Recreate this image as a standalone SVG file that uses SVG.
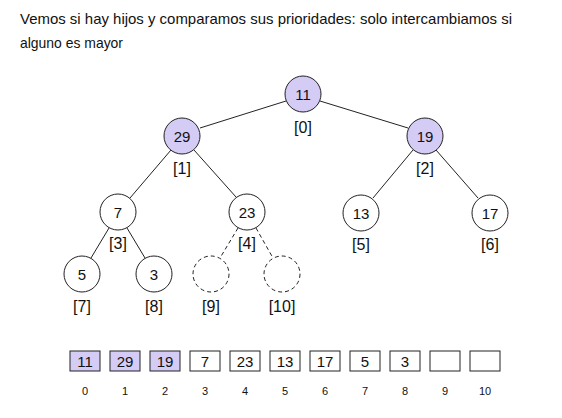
<svg xmlns="http://www.w3.org/2000/svg" width="562" height="418" viewBox="0 0 562 418">
<style>
text{font-family:"Liberation Sans","DejaVu Sans",sans-serif;fill:#111}
.n circle{fill:#fff;stroke:#222;stroke-width:1}
.n.hl circle{fill:#d5ccf6}
.n.d circle{stroke-dasharray:4,3}
.v{font-size:15px;text-anchor:middle;dominant-baseline:central}
.l{font-size:16px;text-anchor:middle;dominant-baseline:central}
.e line{stroke:#222;stroke-width:1}
.e line.d{stroke-dasharray:4,3}
.a rect{fill:#fff;stroke:#222;stroke-width:1}
.a rect.hl{fill:#d5ccf6}
.i{font-size:11px;text-anchor:middle;dominant-baseline:central}
.t{font-size:15px}
</style>
<rect width="562" height="418" fill="#fff"/>
<text class="t" x="20" y="24" textLength="492" lengthAdjust="spacingAndGlyphs">Vemos si hay hijos y comparamos sus prioridades: solo intercambiamos si</text>
<text class="t" x="20" y="48" textLength="103" lengthAdjust="spacingAndGlyphs">alguno es mayor</text>
<g class="e" id="connectors">
<line x1="286" y1="101" x2="200" y2="128"/>
<line x1="320" y1="101" x2="408" y2="128"/>
<line x1="171" y1="150" x2="130" y2="198"/>
<line x1="194" y1="150" x2="236" y2="197"/>
<line x1="413" y1="150" x2="373" y2="198"/>
<line x1="436" y1="150" x2="478" y2="198"/>
<line x1="109" y1="228" x2="91" y2="258"/>
<line x1="127" y1="228" x2="145" y2="258"/>
<line class="d" x1="238" y1="228" x2="220" y2="258"/>
<line class="d" x1="256" y1="228" x2="273" y2="258"/>
</g>
<g class="n hl" id="node0"><circle cx="303" cy="94" r="18"/><text class="v" x="303" y="94">11</text><text class="l" x="303" y="127">[0]</text></g>
<g class="n hl" id="node1"><circle cx="182" cy="136" r="18"/><text class="v" x="182" y="136">29</text><text class="l" x="182" y="168">[1]</text></g>
<g class="n hl" id="node2"><circle cx="425" cy="136" r="18"/><text class="v" x="425" y="136">19</text><text class="l" x="425" y="168">[2]</text></g>
<g class="n" id="node3"><circle cx="118" cy="212" r="18"/><text class="v" x="118" y="212">7</text><text class="l" x="118" y="243">[3]</text></g>
<g class="n" id="node4"><circle cx="247" cy="212" r="18"/><text class="v" x="247" y="212">23</text><text class="l" x="247" y="243">[4]</text></g>
<g class="n" id="node5"><circle cx="361" cy="213" r="18"/><text class="v" x="361" y="213">13</text><text class="l" x="361" y="244">[5]</text></g>
<g class="n" id="node6"><circle cx="490" cy="213" r="18"/><text class="v" x="490" y="213">17</text><text class="l" x="490" y="244">[6]</text></g>
<g class="n" id="node7"><circle cx="82" cy="274" r="18"/><text class="v" x="82" y="274">5</text><text class="l" x="82" y="306">[7]</text></g>
<g class="n" id="node8"><circle cx="154" cy="274" r="18"/><text class="v" x="154" y="274">3</text><text class="l" x="154" y="306">[8]</text></g>
<g class="n d" id="node9"><circle cx="211" cy="274" r="18"/><text class="l" x="211" y="306">[9]</text></g>
<g class="n d" id="node10"><circle cx="282" cy="274" r="18"/><text class="l" x="282" y="306">[10]</text></g>
<g class="a" id="array">
<rect class="hl" x="70" y="351" width="30" height="20"/><text class="v" x="85" y="361">11</text><text class="i" x="85" y="391">0</text>
<rect class="hl" x="110" y="351" width="30" height="20"/><text class="v" x="125" y="361">29</text><text class="i" x="125" y="391">1</text>
<rect class="hl" x="150" y="351" width="30" height="20"/><text class="v" x="165" y="361">19</text><text class="i" x="165" y="391">2</text>
<rect x="190" y="351" width="30" height="20"/><text class="v" x="205" y="361">7</text><text class="i" x="205" y="391">3</text>
<rect x="230" y="351" width="30" height="20"/><text class="v" x="245" y="361">23</text><text class="i" x="245" y="391">4</text>
<rect x="270" y="351" width="30" height="20"/><text class="v" x="285" y="361">13</text><text class="i" x="285" y="391">5</text>
<rect x="310" y="351" width="30" height="20"/><text class="v" x="325" y="361">17</text><text class="i" x="325" y="391">6</text>
<rect x="350" y="351" width="30" height="20"/><text class="v" x="365" y="361">5</text><text class="i" x="365" y="391">7</text>
<rect x="390" y="351" width="30" height="20"/><text class="v" x="405" y="361">3</text><text class="i" x="405" y="391">8</text>
<rect x="430" y="351" width="30" height="20"/><text class="i" x="445" y="391">9</text>
<rect x="470" y="351" width="30" height="20"/><text class="i" x="485" y="391">10</text>
</g>
</svg>
